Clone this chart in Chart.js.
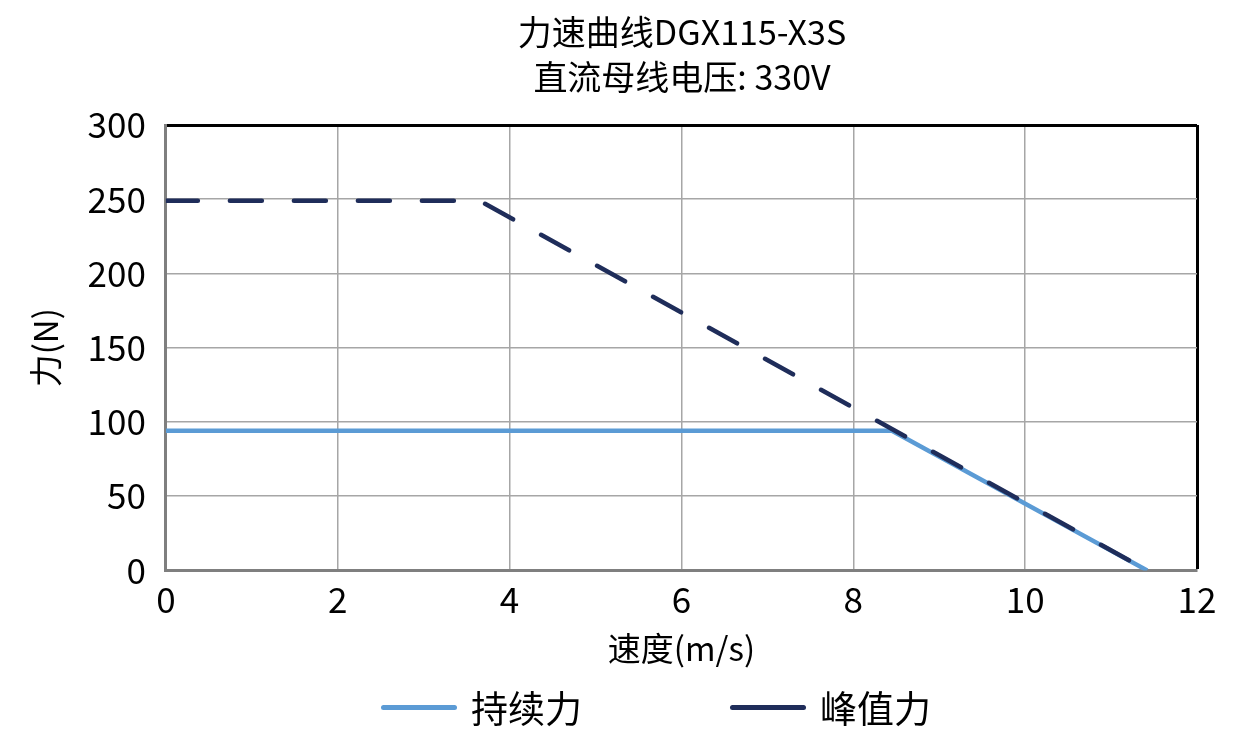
<!DOCTYPE html>
<html>
<head>
<meta charset="utf-8">
<script src="https://cdn.jsdelivr.net/npm/chart.js@4"></script>
<style>
  html, body { margin: 0; padding: 0; background: #fff; }
  #wrap { position: relative; width: 1260px; height: 742px; }
  #title {
    position: absolute; left: 0; top: 8px; width: 1364px; text-align: center;
    font-family: "Noto Sans CJK SC", sans-serif; font-size: 34px; line-height: 45px; color: #000;
  }
  #legend {
    position: absolute; left: 26px; top: 682px; width: 1260px; height: 50px;
    display: flex; justify-content: center; align-items: center;
    font-family: "Noto Sans CJK SC", sans-serif; font-size: 37px; color: #000;
  }
  .item { display: flex; align-items: center; margin: 0 74px; }
  .swatch { width: 76px; height: 5px; border-radius: 3px; margin-right: 14px; }
</style>
</head>
<body>
<div id="wrap">
  <canvas id="chart" width="1260" height="742"></canvas>
  <div id="title">力速曲线DGX115-X3S<br>直流母线电压: 330V</div>
  <div id="legend"></div>
</div>
<script>
// Continuous force (持续力)
const contSpeed = [0, 8.45, 11.42];
const contForce = [94, 94, 0];
// Peak force (峰值力)
const peakSpeed = [0, 3.65, 11.42];
const peakForce = [249, 249, 0];

const xTicks = [0, 2, 4, 6, 8, 10, 12];
const yTicks = [0, 50, 100, 150, 200, 250, 300];

const FONT = '"Noto Sans CJK SC", "Noto Sans", sans-serif';
const contColor = '#5b9bd5';
const peakColor = '#1f2d5a';

const toPoints = (xs, ys) => xs.map((x, i) => ({ x: x, y: ys[i] }));

const series = [
    { label: '持续力', color: contColor },
    { label: '峰值力', color: peakColor }
];

// HTML legend (solid swatches like the reference)
const legend = document.getElementById('legend');
series.forEach(s => {
    const item = document.createElement('div');
    item.className = 'item';
    item.innerHTML = `<span class="swatch" style="background:${s.color}"></span><span>${s.label}</span>`;
    legend.appendChild(item);
});

new Chart(document.getElementById('chart'), {
    type: 'scatter',
    data: {
        datasets: [
            {
                label: '持续力',
                data: toPoints(contSpeed, contForce),
                showLine: true,
                borderColor: contColor,
                backgroundColor: contColor,
                borderWidth: 4.5,
                pointRadius: 0,
                order: 2
            },
            {
                label: '峰值力',
                data: toPoints(peakSpeed, peakForce),
                showLine: true,
                borderColor: peakColor,
                backgroundColor: peakColor,
                borderWidth: 4.5,
                borderDash: [32, 32],
                borderCapStyle: 'round',
                pointRadius: 0,
                order: 1
            }
        ]
    },
    options: {
        responsive: false,
        animation: false,
        devicePixelRatio: 1,
        layout: { padding: { left: 26, right: 63, top: 125, bottom: 74 } },
        plugins: {
            legend: { display: false },
            tooltip: { enabled: false },
            title: { display: false }
        },
        scales: {
            x: {
                type: 'linear',
                min: 0, max: 12,
                afterBuildTicks: axis => { axis.ticks = xTicks.map(v => ({ value: v })); },
                ticks: {
                    color: '#000',
                    padding: 8,
                    font: { family: FONT, size: 35 }
                },
                grid: {
                    drawTicks: false,
                    color: c => c.tick && c.tick.value === 12 ? '#000' : '#a6a6a6',
                    lineWidth: c => c.tick && c.tick.value === 12 ? 3 : 1.5
                },
                border: { color: '#7f7f7f', width: 3 },
                title: {
                    display: true,
                    text: '速度(m/s)',
                    color: '#000',
                    font: { family: FONT, size: 33 },
                    padding: { top: 0, bottom: 0 }
                }
            },
            y: {
                type: 'linear',
                min: 0, max: 300,
                afterBuildTicks: axis => { axis.ticks = yTicks.map(v => ({ value: v })); },
                ticks: {
                    color: '#000',
                    padding: 20,
                    font: { family: FONT, size: 35 }
                },
                grid: {
                    drawTicks: false,
                    color: c => c.tick && c.tick.value === 300 ? '#000' : '#a6a6a6',
                    lineWidth: c => c.tick && c.tick.value === 300 ? 3 : 1.5
                },
                border: { color: '#7f7f7f', width: 3 },
                title: {
                    display: true,
                    text: '力(N)',
                    color: '#000',
                    font: { family: FONT, size: 33 },
                    padding: { top: 0, bottom: 2 }
                }
            }
        }
    }
});
</script>
</body>
</html>
